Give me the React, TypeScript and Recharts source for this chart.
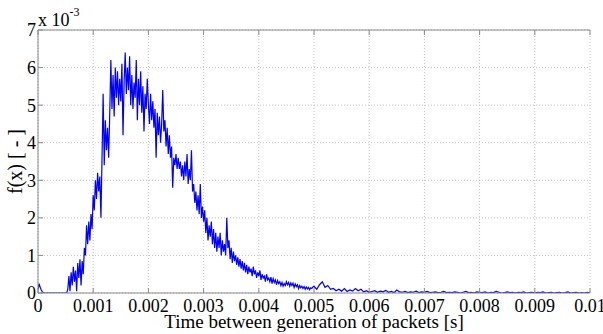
import React from 'react';
import { LineChart, Line, XAxis, YAxis, CartesianGrid } from 'recharts';

// ---- data (f(x) values in units of 1e-3) ----
const FINE_STEP = 0.00002;
const COARSE_STEP = 0.00005;

const riseStart = 0;
const riseValues = [
  0.1, 0.25, 0.15, 0.08, 0.03, 0, 0, 0, 0, 0,
  0, 0, 0, 0, 0, 0, 0, 0, 0, 0,
  0, 0, 0, 0, 0, 0, 0, 0.1, 0.45, 0.05,
  0.55, 0.2, 0.7, 0.3, 0.6, 0.05, 0.8, 0.4, 0.9, 0.2,
  0.85, 0.5, 1.2, 1.0, 1.8, 1.3, 1.9, 1.4, 2.1, 1.7,
];

const peakStart = 0.001;
const peakValues = [
  2.6, 2.2, 3.0, 2.5, 3.2, 2.7, 3.1, 2.0, 3.6, 5.3,
  3.4, 4.6, 3.8, 4.4, 3.6, 4.8, 6.2, 4.9, 5.8, 4.7,
  6.0, 5.2, 5.9, 5.0, 5.7, 5.1, 6.1, 4.2, 5.6, 6.4,
  5.3, 6.0, 5.4, 6.3, 5.0, 5.8, 4.9, 5.6, 5.2, 6.2,
  4.6, 5.7, 5.0, 5.9, 4.8, 5.5, 4.3, 5.3, 4.9, 5.7,
];

const decayStart = 0.002;
const decayValues = [
  5.0, 4.5, 5.3, 4.6, 5.1, 4.4, 4.9, 3.6, 4.8, 4.2,
  4.7, 4.0, 4.5, 5.4, 4.3, 4.6, 3.9, 4.4, 3.7, 4.2,
  3.6, 3.9, 2.8, 3.6, 3.4, 3.7, 3.3, 3.6, 3.3, 3.5,
  3.1, 3.4, 3.0, 3.5, 3.1, 3.7, 2.9, 3.3, 3.0, 3.8,
  2.7, 2.9, 2.4, 2.7, 2.2, 2.6, 2.1, 2.9, 2.0, 2.3,
];

const tailStart = 0.003;
const tailValues = [
  1.9, 2.2, 1.6, 2.0, 1.4, 1.8, 1.5, 1.9, 1.3, 1.7,
  1.2, 1.6, 1.1, 1.5, 1.2, 1.6, 1.0, 1.4, 1.1, 1.3,
  1.0, 2.0, 1.2, 1.4, 0.9, 1.2, 0.8, 1.1, 0.85, 1.0,
  0.75, 0.95, 0.7, 0.9, 0.65, 0.85, 0.6, 0.8, 0.55, 0.75,
  0.5, 0.7, 0.55, 0.65, 0.45, 0.7, 0.5, 0.6, 0.4, 0.55,
  0.45, 0.6, 0.35, 0.5, 0.4, 0.45, 0.3, 0.5, 0.35, 0.4,
  0.3, 0.42, 0.25, 0.38, 0.28, 0.35, 0.22, 0.33, 0.25, 0.3,
  0.2, 0.28, 0.18, 0.25, 0.2, 0.3, 0.22, 0.28, 0.18, 0.27,
  0.2, 0.26, 0.15, 0.24, 0.17, 0.22, 0.12, 0.2, 0.14, 0.18,
  0.12, 0.17, 0.1, 0.16, 0.11, 0.15, 0.09, 0.14, 0.12, 0.16,
];

const farStart = 0.005;
const farValues = [
  0.18, 0.1, 0.22, 0.3, 0.15, 0.2, 0.1, 0.12, 0.06, 0.1,
  0.05, 0.12, 0.04, 0.08, 0.05, 0.12, 0.06, 0.1, 0.03, 0.06,
  0.02, 0.04, 0.06, 0.02, 0.05, 0.03, 0.07, 0.02, 0.04, 0.01,
  0.08, 0.03, 0.02, 0.04, 0.01, 0.03, 0.02, 0.05, 0.01, 0.03,
  0.02, 0.04, 0.01, 0.02, 0.03, 0.01, 0.02, 0.04, 0.01, 0.02,
  0.01, 0.03, 0.02, 0, 0.02, 0.04, 0.01, 0.02, 0, 0.03,
  0.02, 0.01, 0.03, 0, 0.02, 0.01, 0.04, 0.02, 0, 0.01,
  0.03, 0.01, 0.02, 0, 0.02, 0.01, 0.03, 0, 0.01, 0.02,
  0, 0.02, 0.01, 0.03, 0, 0.01, 0.02, 0, 0.01, 0.02,
  0, 0.01, 0.03, 0, 0.01, 0.02, 0, 0.01, 0, 0.02,
  0,
];

const X_TICKS = [0, 0.001, 0.002, 0.003, 0.004, 0.005, 0.006, 0.007, 0.008, 0.009, 0.01];
const X_TICK_LABELS = ['0', '0.001', '0.002', '0.003', '0.004', '0.005', '0.006', '0.007', '0.008', '0.009', '0.01'];
const Y_TICKS = [0, 1, 2, 3, 4, 5, 6, 7];
const Y_TICK_LABELS = ['0', '1', '2', '3', '4', '5', '6', '7'];
const EXPONENT_BASE = 'x 10';
const EXPONENT_POWER = '-3';
const X_TITLE = 'Time between generation of packets [s]';
const Y_TITLE = 'f(x) [ - ]';

const segments = [
  { start: riseStart, step: FINE_STEP, values: riseValues },
  { start: peakStart, step: FINE_STEP, values: peakValues },
  { start: decayStart, step: FINE_STEP, values: decayValues },
  { start: tailStart, step: FINE_STEP, values: tailValues },
  { start: farStart, step: COARSE_STEP, values: farValues },
];

const data = segments.flatMap((s) =>
  s.values.map((v, i) => ({ x: Number((s.start + i * s.step).toFixed(6)), y: v }))
);

// ---- styling ----
const FONT = 'Liberation Serif, Times New Roman, Times, serif';
const AXIS_COLOR = '#8a8a8a';
const GRID_COLOR = '#c4c4c4';
const TICK_LEN = 5;
const X_LABEL_GAP = 6;
const Y_LABEL_GAP = 2;
const TICK_FONT = 18;
const TITLE_FONT = 19;

const labelFor = (labels: string[], ticks: number[], props: any) => {
  const v = props.payload ? props.payload.value : undefined;
  const idx = ticks.findIndex((t) => Math.abs(t - v) < 1e-9);
  return idx >= 0 ? labels[idx] : String(v);
};

const BottomTick = (props: any) => {
  const { x, y } = props;
  const axisY = y - X_LABEL_GAP;
  return (
    <g>
      <line x1={x} x2={x} y1={axisY} y2={axisY - TICK_LEN} stroke={AXIS_COLOR} />
      <text x={x} y={y} dy="0.71em" textAnchor="middle" fontFamily={FONT} fontSize={TICK_FONT} fill="#000">
        {labelFor(X_TICK_LABELS, X_TICKS, props)}
      </text>
    </g>
  );
};

const TopTick = (props: any) => {
  const { x, y } = props;
  return <line x1={x} x2={x} y1={y} y2={y + TICK_LEN} stroke={AXIS_COLOR} />;
};

const LeftTick = (props: any) => {
  const { x, y } = props;
  const axisX = x + Y_LABEL_GAP;
  return (
    <g>
      <line x1={axisX} x2={axisX + TICK_LEN} y1={y} y2={y} stroke={AXIS_COLOR} />
      <text x={x} y={y} dy="0.36em" textAnchor="end" fontFamily={FONT} fontSize={TICK_FONT} fill="#000">
        {labelFor(Y_TICK_LABELS, Y_TICKS, props)}
      </text>
    </g>
  );
};

const RightTick = (props: any) => {
  const { x, y } = props;
  return <line x1={x} x2={x - TICK_LEN} y1={y} y2={y} stroke={AXIS_COLOR} />;
};

const XTitle = (props: any) => {
  const vb = props.viewBox || { x: 38, y: 293, width: 552, height: 41 };
  return (
    <text x={vb.x + vb.width / 2} y={vb.y + 35} textAnchor="middle" fontFamily={FONT} fontSize={TITLE_FONT} fill="#000">
      {X_TITLE}
    </text>
  );
};

const YTitleAndExponent = (props: any) => {
  const vb = props.viewBox || { x: 0, y: 30, width: 38, height: 263 };
  const cx = 22;
  const cy = vb.y + vb.height / 2;
  const ex = vb.x + vb.width;
  const ey = vb.y - 4;
  return (
    <g>
      <text x={cx} y={cy} transform={`rotate(-90 ${cx} ${cy})`} textAnchor="middle" fontFamily={FONT} fontSize={20} fill="#000">
        {Y_TITLE}
      </text>
      <text x={ex} y={ey} textAnchor="start" fontFamily={FONT} fontSize={18} fill="#000">
        {EXPONENT_BASE}
        <tspan dy={-10} fontSize={12}>{EXPONENT_POWER}</tspan>
      </text>
    </g>
  );
};

export default function App() {
  return (
    <div style={{ position: 'absolute', left: 0, top: 0, width: 603, height: 334, background: '#fff' }}>
      <LineChart width={603} height={334} data={data} margin={{ top: 29, right: 13, bottom: 0, left: 0 }}>
        <CartesianGrid xAxisId="b" yAxisId="l" stroke={GRID_COLOR} strokeDasharray="1 2" />
        <XAxis
          xAxisId="b"
          dataKey="x"
          type="number"
          domain={[0, 0.01]}
          ticks={X_TICKS}
          interval={0}
          height={41}
          tickSize={0}
          tickMargin={X_LABEL_GAP}
          stroke={AXIS_COLOR}
          tick={BottomTick}
          allowDataOverflow
          label={{ content: XTitle }}
        />
        <XAxis
          xAxisId="t"
          orientation="top"
          dataKey="x"
          type="number"
          domain={[0, 0.01]}
          ticks={X_TICKS}
          interval={0}
          height={1}
          tickSize={0}
          tickMargin={0}
          stroke={AXIS_COLOR}
          tick={TopTick}
          allowDataOverflow
        />
        <YAxis
          yAxisId="l"
          type="number"
          domain={[0, 7]}
          ticks={Y_TICKS}
          interval={0}
          width={38}
          tickSize={0}
          tickMargin={Y_LABEL_GAP}
          stroke={AXIS_COLOR}
          tick={LeftTick}
          allowDataOverflow
          label={{ content: YTitleAndExponent }}
        />
        <YAxis
          yAxisId="r"
          orientation="right"
          type="number"
          domain={[0, 7]}
          ticks={Y_TICKS}
          interval={0}
          width={0}
          tickSize={0}
          tickMargin={0}
          stroke={AXIS_COLOR}
          tick={RightTick}
          allowDataOverflow
        />
        <Line
          xAxisId="b"
          yAxisId="l"
          type="linear"
          dataKey="y"
          stroke="#0000ff"
          strokeWidth={1.2}
          dot={false}
          activeDot={false}
          isAnimationActive={false}
        />
      </LineChart>
    </div>
  );
}
